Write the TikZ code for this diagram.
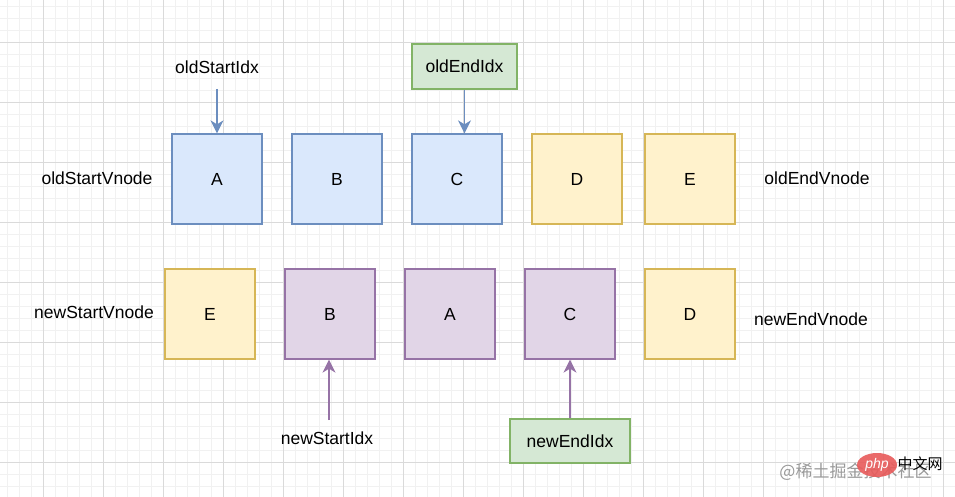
\documentclass[tikz,border=0pt]{standalone}
\usepackage{fontspec}
\setmainfont{Liberation Sans}
\newfontfamily\cjkfont{Noto Sans CJK SC}
\usetikzlibrary{arrows.meta,shapes.geometric}
\definecolor{gridmajor}{HTML}{DADADA}
\definecolor{gridminor}{HTML}{F1F1F1}
\definecolor{bluefill}{HTML}{DAE8FC}
\definecolor{bluedraw}{HTML}{6C8EBF}
\definecolor{yelfill}{HTML}{FFF2CC}
\definecolor{yeldraw}{HTML}{D6B656}
\definecolor{purfill}{HTML}{E1D5E7}
\definecolor{purdraw}{HTML}{9673A6}
\definecolor{grnfill}{HTML}{D5E8D4}
\definecolor{grndraw}{HTML}{82B366}
\definecolor{phpred}{HTML}{E85A5A}
\tikzset{
  lbl/.style={font=\fontsize{17.5}{20}\selectfont, inner sep=0pt},
  cell/.style={draw, line width=1.3pt, minimum width=90pt, minimum height=90pt, inner sep=0pt, font=\fontsize{17.5}{20}\selectfont},
  bluecell/.style={cell, fill=bluefill, draw=bluedraw},
  yelcell/.style={cell, fill=yelfill, draw=yeldraw},
  purcell/.style={cell, fill=purfill, draw=purdraw},
  grnbox/.style={draw=grndraw, fill=grnfill, line width=1.3pt, inner sep=0pt, font=\fontsize{17.5}{20}\selectfont},
  bluearrow/.style={draw=bluedraw, line width=1.3pt, -{Stealth[length=13pt,width=13pt,inset=4pt]}},
  purarrow/.style={draw=purdraw, line width=1.3pt, -{Stealth[length=13pt,width=13pt,inset=4pt]}},
}
\begin{document}
\begin{tikzpicture}[x=1pt,y=-1pt]
\useasboundingbox (0,0) rectangle (955,497);
\fill[white] (0,0) rectangle (955,497);
% grid
\foreach \x in {7,19,...,955} \draw[gridminor, line width=0.8pt] (\x,0) -- (\x,497);
\foreach \y in {6.5,18.5,...,497} \draw[gridminor, line width=0.8pt] (0,\y) -- (955,\y);
\foreach \x in {43,103,...,955} \draw[gridmajor, line width=0.8pt] (\x,0) -- (\x,497);
\foreach \y in {42.5,102.5,...,497} \draw[gridmajor, line width=0.8pt] (0,\y) -- (955,\y);

% top row
\node[bluecell] (oA) at (217,179) {A};
\node[bluecell] (oB) at (337,179) {B};
\node[bluecell] (oC) at (457,179) {C};
\node[yelcell] (oD) at (577,179) {D};
\node[yelcell] (oE) at (690,179) {E};

% bottom row
\node[yelcell] (nE) at (210,314) {E};
\node[purcell] (nB) at (330,314) {B};
\node[purcell] (nA) at (450,314) {A};
\node[purcell] (nC) at (570,314) {C};
\node[yelcell] (nD) at (690,314) {D};

% side labels
\node[lbl] (osv) at (97,178) {oldStartVnode};
\node[lbl] (oev) at (817,178) {oldEndVnode};
\node[lbl] (nsv) at (94,312) {newStartVnode};
\node[lbl] (nev) at (811,319) {newEndVnode};

% index pointers
\node[lbl] (osi) at (217,67) {oldStartIdx};
\coordinate (osiEnd) at (217,89);
\draw[bluearrow] (osiEnd) -- (oA.north);

\node[grnbox, minimum width=105pt, minimum height=45pt] (oei) at (464.5,66.5) {oldEndIdx};
\draw[bluearrow] (oei.south) -- (oei.south |- oC.north);

\node[lbl] (nsi) at (327,438) {newStartIdx};
\coordinate (nsiEnd) at (329,420);
\draw[purarrow] (nsiEnd) -- (nsiEnd |- nB.south);

\node[grnbox, minimum width=120pt, minimum height=44pt] (nei) at (570,441) {newEndIdx};
\draw[purarrow] (nei.north) -- (nei.north |- nC.south);

% watermark
\node[inner sep=0pt, text=black!40, font=\cjkfont\fontsize{17}{18}\selectfont] (wm) at (855.5,472) {@稀土掘金技术社区};
\node[ellipse, fill=phpred, fill opacity=0.9, minimum width=40pt, minimum height=24pt, inner sep=0pt] (php) at (877,465) {};
\node[inner sep=0pt, text=white, font=\fontsize{14}{16}\selectfont\itshape] (phptxt) at (php.center) {php};
\node[inner sep=0pt, text=black, font=\cjkfont\fontsize{15}{17}\selectfont] (zwm) at (920,464) {中文网};
\end{tikzpicture}
\end{document}
